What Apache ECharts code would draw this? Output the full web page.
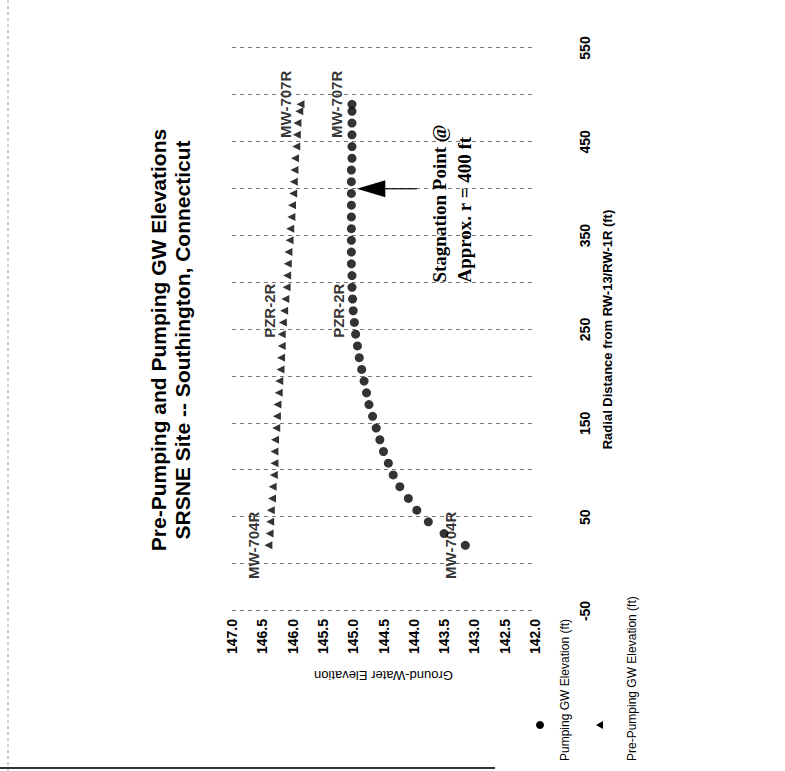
<!DOCTYPE html>
<html>
<head>
<meta charset="utf-8">
<script src="https://cdn.jsdelivr.net/npm/echarts@6/dist/echarts.min.js"></script>
<style>
  html, body { margin: 0; padding: 0; background: #fff; width: 785px; height: 771px; overflow: hidden; }
  /* the page is laid out sideways: the chart is drawn upright, then turned a quarter turn */
  #chart { position: absolute; left: 0; top: 0; width: 771px; height: 785px;
           transform-origin: 0 0; transform: translate(0, 771px) rotate(-90deg); }
</style>
</head>
<body>
<div id="chart"></div>
<script>
// Radial distance of each computed point from RW-13/RW-1R (ft)
const distanceFt = [20, 32.5, 45, 57.5, 70, 82.5, 95, 107.5, 120, 132.5, 145, 157.5, 170, 182.5,
  195, 207.5, 220, 232.5, 245, 257.5, 270, 282.5, 295, 307.5, 320, 332.5, 345, 357.5, 370,
  382.5, 395, 407.5, 420, 432.5, 445, 457.5, 470, 482.5, 490];

// Ground-water elevation while pumping (ft)
const pumpingElev = [143.15, 143.50, 143.76, 143.95, 144.09, 144.23, 144.34, 144.42, 144.50,
  144.56, 144.62, 144.68, 144.74, 144.78, 144.82, 144.86, 144.90, 144.93, 144.96, 144.98,
  145.00, 145.01, 145.02, 145.02, 145.03, 145.03, 145.03, 145.03, 145.03, 145.03, 145.03,
  145.03, 145.03, 145.02, 145.02, 145.02, 145.02, 145.02, 145.02];

// Ground-water elevation before pumping (ft)
const prePumpingElev = [146.40, 146.38, 146.37, 146.36, 146.34, 146.33, 146.31, 146.30, 146.30,
  146.29, 146.27, 146.26, 146.25, 146.23, 146.22, 146.20, 146.19, 146.18, 146.18, 146.16,
  146.14, 146.12, 146.10, 146.09, 146.08, 146.07, 146.05, 146.04, 146.02, 146.01, 145.99,
  145.98, 145.97, 145.96, 145.94, 145.93, 145.92, 145.89, 145.87];

// Monitoring wells named along the profile
const wellNames = ['MW-704R', 'PZR-2R', 'MW-707R'];
const wellDistances = [20, 270, 490];

// Axis ticks
const distanceTickLabels = [-50, 50, 150, 250, 350, 450, 550];
const elevationTicks = [142.0, 142.5, 143.0, 143.5, 144.0, 144.5, 145.0, 145.5, 146.0, 146.5, 147.0];

// Stagnation point arrow: distance, tail, head base and tip elevations
const stagnationArrow = [400, 143.95, 144.47, 144.94];
const stagnationText = ['Stagnation Point @', 'Approx. r = 400 ft'];
const stagnationTextAnchor = [300, 143.57, 143.16];

const SANS = '"Liberation Sans", Arial, sans-serif';
const SERIF = '"Liberation Serif", "Times New Roman", serif';

function withWellLabels(elevs) {
  return distanceFt.map(function (d, i) {
    const w = wellDistances.indexOf(d);
    if (w < 0) return [d, elevs[i]];
    return { value: [d, elevs[i]], label: { show: true, formatter: wellNames[w] } };
  });
}

const chart = echarts.init(document.getElementById('chart'), null, { renderer: 'svg' });

const wellLabel = {
  show: false, position: 'top', distance: 3, color: '#000',
  fontFamily: SANS, fontWeight: 'bold', fontSize: 15
};

chart.setOption({
  animation: false,
  backgroundColor: '#fff',
  grid: { left: 160, right: 48, top: 232, bottom: 250 },
  xAxis: {
    type: 'value', min: -50, max: 550, interval: 50,
    axisLine: { show: false }, axisTick: { show: false },
    splitLine: { show: true, lineStyle: { color: '#777', width: 1, type: [4, 4] } },
    axisLabel: {
      margin: 43, color: '#000', fontFamily: SANS, fontWeight: 'bold', fontSize: 14,
      formatter: function (v) { return distanceTickLabels.indexOf(v) >= 0 ? String(v) : ''; }
    },
    name: 'Radial Distance from RW-13/RW-1R (ft)', nameLocation: 'middle', nameGap: 66,
    nameTextStyle: { color: '#000', fontFamily: SANS, fontWeight: 'bold', fontSize: 13 }
  },
  yAxis: {
    type: 'value', min: elevationTicks[0], max: elevationTicks[elevationTicks.length - 1], interval: 0.5,
    axisLine: { show: false }, axisTick: { show: false }, splitLine: { show: false },
    axisLabel: {
      margin: 8, color: '#000', fontFamily: SANS, fontWeight: 'bold', fontSize: 14,
      formatter: function (v) { return v.toFixed(1); }
    },
    name: 'Ground-Water Elevation', nameLocation: 'middle', nameGap: 58, nameRotate: 90,
    nameTextStyle: { color: '#000', fontFamily: SANS, fontSize: 13 }
  },
  series: [
    {
      name: 'Pumping GW Elevation (ft)', type: 'scatter', symbol: 'circle', symbolSize: 9,
      itemStyle: { color: '#000' }, label: wellLabel, data: withWellLabels(pumpingElev), z: 3
    },
    {
      name: 'Pre-Pumping GW Elevation (ft)', type: 'scatter', symbol: 'triangle', symbolSize: 8,
      itemStyle: { color: '#000' }, label: wellLabel, data: withWellLabels(prePumpingElev), z: 3
    },
    {
      // stagnation-point arrow and its note
      type: 'custom', silent: true, z: 4,
      data: [stagnationArrow],
      renderItem: function (params, api) {
        const tail = api.coord([api.value(0), api.value(1)]);
        const base = api.coord([api.value(0), api.value(2)]);
        const tip = api.coord([api.value(0), api.value(3)]);
        const half = 8.5;
        const t1 = api.coord([stagnationTextAnchor[0], stagnationTextAnchor[1]]);
        const t2 = api.coord([stagnationTextAnchor[0], stagnationTextAnchor[2]]);
        return {
          type: 'group',
          children: [
            { type: 'line', shape: { x1: tail[0], y1: tail[1], x2: base[0], y2: base[1] },
              style: { stroke: '#000', lineWidth: 1.2 } },
            { type: 'polygon', shape: { points: [[tip[0], tip[1]], [base[0] - half, base[1]], [base[0] + half, base[1]]] },
              style: { fill: '#000' } },
            { type: 'text', x: t1[0], y: t1[1],
              style: { text: stagnationText[0], fill: '#000', font: 'bold 19px ' + SERIF, textAlign: 'left', textVerticalAlign: 'middle' } },
            { type: 'text', x: t2[0], y: t2[1],
              style: { text: stagnationText[1], fill: '#000', font: 'bold 19px ' + SERIF, textAlign: 'left', textVerticalAlign: 'middle' } }
          ]
        };
      }
    }
  ],
  graphic: [
    { type: 'text', x: 431, y: 146,
      style: { text: 'Pre-Pumping and Pumping GW Elevations\nSRSNE Site -- Southington, Connecticut',
               fill: '#000', font: 'bold 21px ' + SANS, lineHeight: 24, textAlign: 'center' } },
    // legend
    { type: 'circle', shape: { cx: 46, cy: 540, r: 4 }, style: { fill: '#000' } },
    { type: 'text', x: 10, y: 565, style: { text: 'Pumping GW Elevation (ft)', fill: '#000', font: '12px ' + SANS, textVerticalAlign: 'middle' } },
    { type: 'polygon', shape: { points: [[46, 596], [42, 603], [50, 603]] }, style: { fill: '#000' } },
    { type: 'text', x: 10, y: 632, style: { text: 'Pre-Pumping GW Elevation (ft)', fill: '#000', font: '12px ' + SANS, textVerticalAlign: 'middle' } },
    // page edges
    { type: 'line', shape: { x1: 0, y1: 8, x2: 771, y2: 8 }, style: { stroke: '#999', lineWidth: 1, lineDash: [3, 3] } },
    { type: 'line', shape: { x1: 3, y1: 0, x2: 3, y2: 495 }, style: { stroke: '#333', lineWidth: 2 } }
  ]
});
</script>
</body>
</html>
